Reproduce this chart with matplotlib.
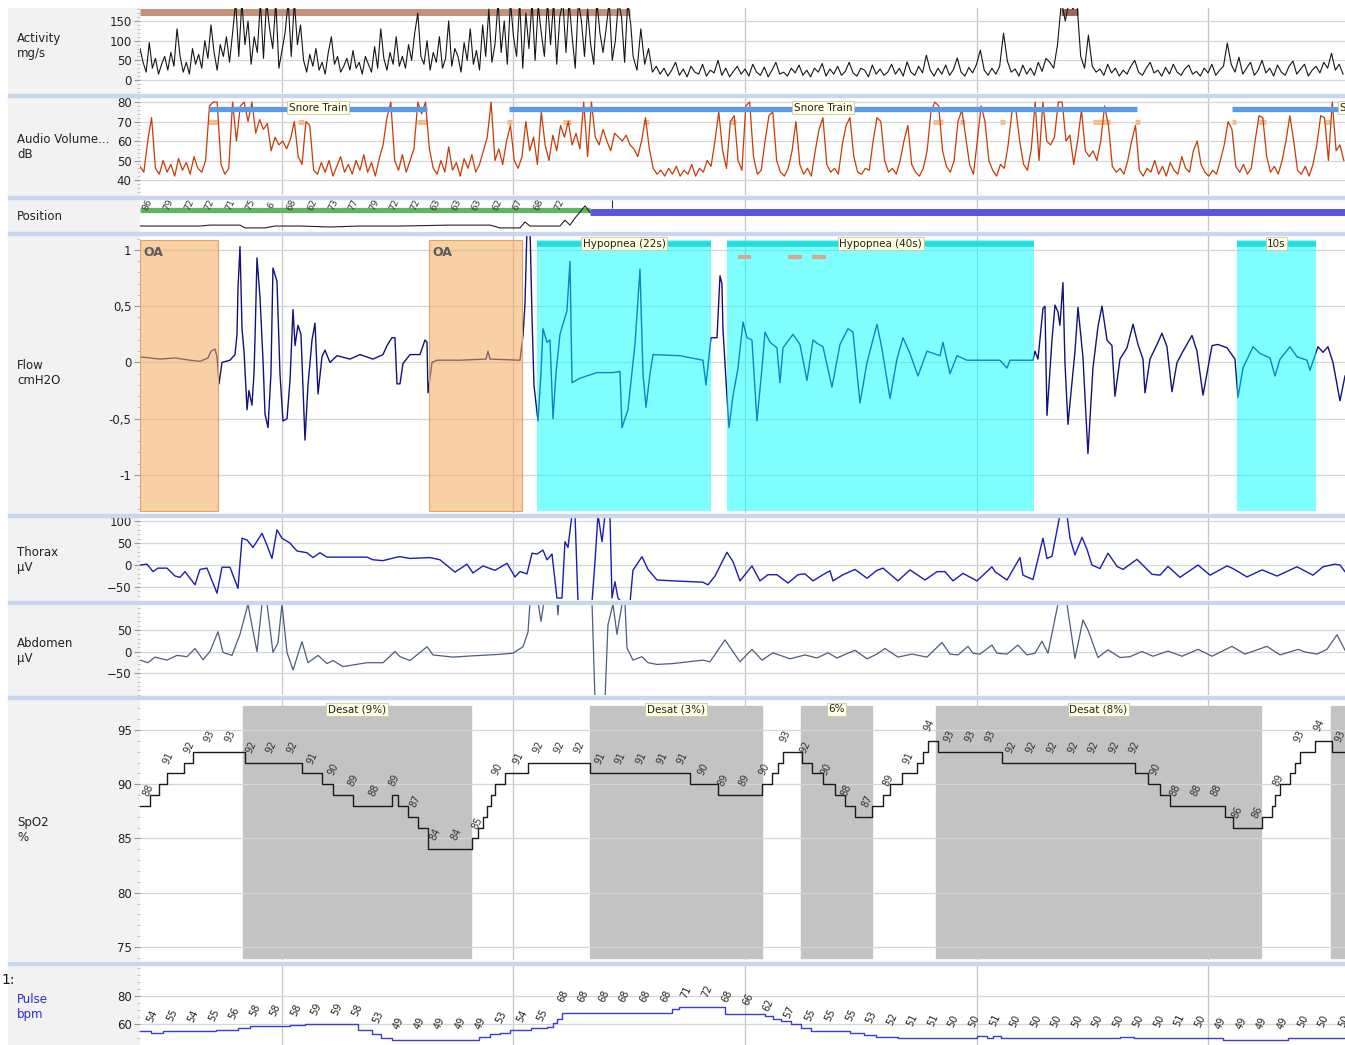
import numpy as np
import matplotlib
matplotlib.use("Agg")
import matplotlib.pyplot as plt
from matplotlib.patches import Rectangle
from matplotlib.ticker import AutoMinorLocator

plt.rcParams['font.family'] = ['DejaVu Sans']

# time axis in seconds, vertical grid every 30 s
t_start, t_end = 11.6, 167.75
grid_t = [30, 60, 90, 120, 150]

# ---------------- data ----------------
# activity (mg/s): busy part sampled every 0.4 s, calm part every 0.5 s
act_busy_t0, act_busy_dt = 11.6, 0.4
act_busy = [80, 45, 20, 95, 30, 55, 15, 40, 60, 25, 70, 35, 130, 60, 20, 45, 15, 80, 40, 65,
            30, 100, 55, 140, 70, 25, 90, 60, 110, 45,
            120, 200, 60, 200, 90, 150, 40, 110, 70, 200, 55, 200, 130, 80, 200, 30, 75, 120, 200, 60, 200, 90, 140,
            50, 20, 65, 35, 80, 25, 45, 15, 70, 110, 40, 60, 20, 35, 55, 25, 75, 30, 45, 15, 60, 40, 20, 85, 30, 130,
            55, 25, 70, 40, 110, 35, 60,
            30, 90, 50, 120, 170, 60, 40, 100, 25, 70, 45, 110, 30, 55, 150, 35, 80, 60, 20, 95, 50, 130, 40, 75,
            25, 140, 60, 180, 45, 90,
            200, 70, 150, 40, 200, 110, 60, 200, 30, 170, 80, 200, 50, 190, 120, 60, 200, 90, 200, 40, 160, 200, 70,
            200, 110, 30, 200, 150, 60, 180, 90, 40, 200, 120, 70, 130, 200, 50, 100, 200, 160, 45, 200, 140]
act_calm_t0, act_calm_dt = 75.5, 0.5
act_calm = [60, 25, 130, 40, 80, 20, 35, 15,
            30, 10, 25, 45, 12, 28, 8, 35, 20, 15, 40, 10, 25, 18, 50, 12, 30, 8, 22, 35,
            15, 28, 10, 40, 20, 12, 33, 8, 25, 45, 15, 20, 10, 30, 18, 38, 12, 25, 8, 30,
            20, 42, 10, 28, 15, 35, 12, 22, 45, 18, 10, 30, 25, 8, 38, 15, 28, 12, 20, 40,
            15, 30, 10, 46, 20, 12, 35, 18, 63, 25, 10, 30, 15, 38, 12, 26, 56, 20, 10, 32,
            18, 40, 76, 25, 12, 30, 15, 35, 119, 48, 20, 28, 10, 38, 15, 30, 12, 45, 22, 55,
            45, 30, 90, 200, 150, 200, 180, 200, 60, 30, 114, 35, 20, 28, 12, 40, 18, 30, 10, 25,
            15, 35, 50, 20, 12, 30, 45, 18, 25, 10, 32, 15, 40, 20, 12, 28, 38, 15, 22, 10,
            30, 18, 40, 12, 25, 35, 94, 40, 20, 58, 15, 30, 45, 12, 25, 50, 18, 30, 10, 38,
            20, 12, 35, 48, 15, 28, 40, 10, 25, 35, 18, 45, 30, 68, 25, 40, 15]
act_bars = [(11.6, 75.1, '#c4917a'), (131.0, 133.1, '#9a6a58')]

# audio volume (dB), every 0.5 s
aud_t0, aud_dt = 11.6, 0.5
audio = [47, 44, 60, 72, 46, 43, 50, 44, 48, 42, 51, 45, 49, 43, 52, 46, 44, 50, 78, 80,
         80, 48, 43, 46, 80, 60, 78, 80, 70, 80, 64, 71, 66, 69, 55, 62, 58, 60, 56, 61,
         70, 52, 48, 70, 68, 45, 43, 49, 44, 50, 42, 47, 52, 44, 48, 43, 50, 45, 53, 44,
         49, 42, 51, 58, 72, 80, 50, 45, 53, 44, 50, 56, 80, 74, 80, 56, 46, 43, 50, 44,
         57, 45, 49, 42, 51, 46, 53, 44, 48, 55, 62, 80, 50, 56, 48, 60, 68, 50, 46, 52,
         70, 55, 62, 48, 75, 58, 50, 63, 55, 68, 62, 70, 58, 64, 56, 80, 52, 80, 62, 58,
         66, 60, 55, 64, 62, 60, 63, 58, 56, 52, 60, 72, 56, 46, 43, 45, 42, 46, 43, 47,
         42, 45, 43, 48, 42, 46, 44, 50, 47, 60, 75, 55, 46, 70, 73, 50, 45, 78, 80, 52,
         43, 45, 60, 73, 75, 50, 44, 42, 46, 55, 70, 48, 43, 46, 42, 55, 66, 72, 48, 44,
         46, 43, 58, 68, 72, 52, 44, 43, 46, 45, 60, 72, 70, 50, 44, 46, 43, 50, 60, 68,
         48, 44, 42, 46, 55, 75, 80, 78, 55, 47, 44, 50, 70, 76, 62, 48, 43, 60, 78, 70,
         50, 45, 42, 48, 46, 58, 75, 76, 60, 48, 45, 56, 80, 50, 80, 60, 58, 62, 80, 80,
         60, 63, 48, 60, 76, 55, 52, 55, 50, 60, 78, 68, 47, 44, 46, 43, 50, 60, 68, 45,
         42, 46, 44, 50, 43, 47, 42, 49, 45, 43, 52, 46, 44, 55, 60, 48, 44, 42, 45, 43,
         50, 58, 70, 66, 47, 44, 48, 43, 46, 60, 73, 72, 52, 44, 47, 43, 50, 60, 73, 60,
         45, 43, 47, 42, 48, 58, 73, 72, 50, 80, 55, 58, 50]
snore_trains = [(20.54, 48.79), (59.36, 140.86), (153.1, 188.7)]
snore_marks = [(20.4, 21.7), (32.1, 32.9), (47.5, 48.8), (59.2, 59.8), (66.4, 67.5), (76.8, 77.6),
               (88.1, 88.8), (114.4, 115.7), (117.9, 118.5), (123.0, 123.7), (135.1, 137.3),
               (140.5, 141.2), (153.1, 153.6), (156.5, 157.5), (165.2, 165.8)]

# body position
pos_green = (11.6, 69.9)
pos_blue = (69.9, 167.75)
pos_pts = [(11.6, 0.16), (19.37, 0.16), (20.67, 0.19), (24.56, 0.19), (25.21, 0.1), (27.8, 0.1),
           (29.09, 0.16), (32.33, 0.16), (36.22, 0.13), (40.11, 0.16), (45.29, 0.16), (51.77, 0.19),
           (56.95, 0.19), (58.25, 0.1), (60.84, 0.1), (61.49, 0.29), (62.14, 0.16), (66.02, 0.16),
           (66.67, 0.35), (67.32, 0.19), (67.97, 0.42), (68.62, 0.61), (69.27, 0.81), (69.91, 0.61)]
pos_labels = [86, 79, 72, 72, 71, 75, 6, 68, 62, 73, 77, 79, 72, 72, 63, 63, 63, 62, 67, 68, 72]
pos_ticks = [72.76]

# flow (cmH2O)
flow_pts = [(11.6, 0.05), (14.19, 0.03), (16.14, 0.04), (18.08, 0.02), (19.37, 0.01), (20.41, 0.04),
            (20.8, 0.10), (21.32, 0.12), (21.58, 0.05), (21.84, -0.19), (22.22, 0.0), (23.26, 0.02),
            (23.91, 0.07), (24.17, 0.25), (24.3, 0.66), (24.56, 1.03), (24.82, 0.3), (25.08, 0.1),
            (25.47, -0.42), (25.72, -0.25), (26.11, -0.38), (26.37, -0.1), (26.5, 0.2), (26.76, 0.93),
            (27.15, 0.58), (27.54, 0.02), (27.8, -0.46), (28.19, -0.58), (28.57, -0.1), (28.83, 0.84),
            (29.35, 0.72), (29.74, -0.1), (30.13, -0.52), (30.65, -0.5), (31.04, -0.16), (31.43, 0.47),
            (31.69, 0.15), (32.07, 0.33), (32.46, 0.25), (32.98, -0.69), (33.37, -0.2), (33.89, 0.2),
            (34.28, 0.35), (34.67, -0.28), (35.18, 0.05), (35.57, 0.11), (36.22, 0.0), (37.13, 0.06),
            (38.81, 0.03), (40.11, 0.07), (41.79, 0.03), (43.09, 0.07), (43.61, 0.15), (44.25, 0.22),
            (44.64, 0.22), (44.9, -0.19), (45.29, -0.19), (45.68, -0.01), (46.59, 0.07), (47.88, 0.07),
            (48.53, 0.2), (48.79, 0.18), (48.92, -0.27), (49.44, 0.0), (50.09, 0.02), (53.07, 0.02),
            (56.44, 0.03), (56.69, 0.1), (56.95, 0.03), (60.84, 0.02), (61.23, 0.24), (61.49, 0.52),
            (61.75, 1.2), (62.14, 1.2), (62.4, 0.4), (62.65, -0.2), (63.17, -0.52), (63.56, -0.1),
            (63.82, 0.3), (64.34, 0.18), (64.73, 0.2), (65.12, -0.5), (65.5, -0.1), (66.02, 0.25),
            (66.93, 0.46), (67.32, 0.9), (67.58, -0.18), (68.62, -0.14), (70.82, -0.09), (72.89, -0.09),
            (73.8, -0.08), (74.06, -0.58), (74.83, -0.42), (75.74, 0.16), (76.39, 0.83), (76.78, -0.1),
            (77.17, -0.4), (77.69, -0.1), (78.08, 0.07), (81.57, 0.06), (84.55, 0.02), (84.94, -0.2),
            (85.59, 0.22), (86.37, 0.22), (86.76, 0.77), (87.01, 0.7), (87.14, 0.3), (87.66, -0.3),
            (87.92, -0.58), (88.44, -0.3), (89.09, -0.05), (89.74, 0.36), (90.25, 0.22), (90.9, 0.2),
            (91.55, -0.52), (92.2, -0.05), (92.59, 0.27), (93.24, 0.18), (94.14, 0.13), (94.53, -0.18),
            (94.92, 0.13), (96.22, 0.25), (97.12, 0.16), (98.03, -0.16), (98.81, 0.2), (99.33, 0.17),
            (100.1, 0.14), (101.27, -0.22), (102.31, 0.16), (103.34, 0.3), (103.99, 0.27), (104.9, -0.36),
            (105.81, 0.0), (107.1, 0.34), (107.75, 0.12), (108.79, -0.32), (109.69, 0.03), (110.47, 0.22),
            (111.38, 0.08), (112.41, -0.12), (113.58, 0.1), (115.27, 0.06), (115.65, 0.18), (116.56, -0.1),
            (117.47, 0.06), (118.77, 0.02), (123.04, 0.02), (123.95, -0.05), (124.34, 0.02), (127.32, 0.02),
            (127.58, 0.1), (127.97, 0.03), (128.61, 0.48), (128.87, 0.5), (129.13, -0.47), (129.78, 0.2),
            (130.17, 0.51), (130.55, 0.45), (130.81, 0.33), (131.2, 0.71), (131.46, 0.0), (131.85, -0.55),
            (132.76, 0.1), (133.15, 0.49), (133.79, 0.05), (134.44, -0.81), (135.09, -0.05), (135.74, 0.32),
            (136.26, 0.5), (136.91, 0.2), (137.55, 0.15), (137.94, -0.3), (138.59, 0.03), (139.5, 0.13),
            (140.28, 0.34), (140.92, 0.16), (141.57, 0.03), (141.83, -0.27), (142.48, 0.03), (143.39, 0.16),
            (144.03, 0.26), (144.68, 0.14), (145.33, -0.26), (145.98, 0.0), (146.76, 0.1), (147.92, 0.24),
            (148.57, 0.1), (149.35, -0.29), (150.52, 0.15), (151.29, 0.16), (152.46, 0.13), (153.49, 0.03),
            (153.88, -0.31), (154.53, -0.05), (155.83, 0.14), (156.74, 0.08), (158.03, 0.04), (158.68, -0.12),
            (159.33, 0.03), (160.62, 0.14), (161.53, 0.05), (162.83, 0.02), (163.21, -0.07), (164.25, 0.14),
            (164.9, 0.09), (165.54, 0.14), (166.19, 0.0), (167.1, -0.34), (167.75, -0.12)]
oa_events = [(11.6, 21.7), (49.05, 61.1)]
hyp_events = [(63.05, 85.6, 'Hypopnea (22s)'), (87.7, 127.45, 'Hypopnea (40s)'), (153.75, 164.0, '10s')]
flow_marks = [(89.07, 90.75), (95.57, 97.38), (98.68, 100.5)]

# thorax (uV)
thx_pts = [(11.6, 0), (12.51, 2), (13.28, -15), (13.93, -7), (15.1, -7), (16.14, -25), (16.78, -28),
           (17.43, -15), (18.73, -45), (19.37, -10), (20.28, -7), (21.58, -64), (22.22, -5), (23.26, -5),
           (24.3, -53), (24.82, 61), (25.47, 57), (26.24, 40), (27.41, 72), (28.06, 45), (28.7, 15),
           (29.35, 80), (30.0, 61), (31.04, 50), (31.94, 32), (33.24, 28), (34.02, 17), (34.92, 28),
           (35.83, 18), (41.01, 18), (41.79, 12), (43.09, 10), (44.9, 18), (45.29, 19), (46.59, 15),
           (49.18, 17), (50.47, 12), (52.42, -16), (53.97, 2), (54.75, -18), (56.05, -2), (57.6, -12),
           (59.16, 4), (60.19, -27), (60.84, -15), (61.75, -20), (62.4, 27), (63.04, 25), (63.82, 34),
           (64.34, 12), (64.99, 25), (65.63, -75), (66.28, -75), (66.67, 53), (67.06, 40), (67.58, 115),
           (67.97, 115), (68.36, -85), (70.17, -85), (70.56, 8), (70.95, 115), (71.47, 53), (71.86, 115),
           (72.5, 115), (72.76, -75), (73.15, -38), (73.54, -75), (74.06, -85), (75.1, -85), (75.48, -12),
           (76.65, 19), (77.43, -10), (78.59, -34), (80.67, -36), (84.55, -39), (85.2, -45), (86.11, -25),
           (87.66, 29), (88.44, 8), (89.35, -36), (90.9, -2), (91.94, -36), (92.97, -22), (94.14, -22),
           (95.57, -41), (96.86, -22), (97.77, -20), (98.81, -36), (100.1, -22), (101.01, -13), (101.4, -36),
           (102.7, -22), (104.25, -10), (105.81, -30), (107.1, -12), (107.88, -7), (109.82, -36),
           (111.38, -11), (113.32, -34), (114.88, -15), (115.91, -15), (116.95, -36), (118.25, -19),
           (120.06, -36), (122.0, -4), (122.39, -15), (123.95, -34), (125.63, 17), (126.02, -23),
           (127.32, -33), (128.61, 61), (129.13, 15), (129.78, 20), (130.82, 115), (131.72, 115),
           (132.11, 61), (132.76, 23), (133.67, 63), (134.31, 36), (134.96, 0), (136.0, -8), (137.04, 27),
           (138.21, -3), (138.98, -10), (140.79, 13), (142.74, -21), (143.78, -23), (144.81, -3),
           (146.37, -28), (148.7, 0), (150.26, -23), (152.46, -2), (153.23, -8), (155.05, -27), (157.0, -11),
           (158.94, -25), (161.53, -4), (163.6, -23), (164.9, -4), (166.45, 2), (167.1, 0), (167.75, -15)]

# abdomen (uV)
abd_pts = [(11.6, -20), (12.64, -26), (13.54, -13), (15.1, -20), (16.39, -9), (17.69, -12), (18.73, 7),
           (19.76, -19), (20.67, 0), (21.71, 46), (22.35, -2), (23.52, -9), (24.56, 40), (25.59, 110),
           (26.11, 60), (26.76, 0), (27.41, 110), (28.06, 110), (28.83, -2), (29.48, 20), (30.0, 110),
           (30.65, -2), (31.43, -43), (32.59, 23), (33.37, -26), (34.67, -9), (35.83, -28), (36.61, -21),
           (37.91, -35), (41.01, -26), (43.09, -26), (44.64, 0), (45.29, -12), (46.59, -21), (48.79, 11),
           (49.57, -8), (52.16, -13), (54.75, -10), (57.86, -7), (59.93, -4), (61.23, 11), (61.88, 45),
           (62.14, 115), (63.17, 115), (63.56, 70), (63.95, 115), (65.63, 115), (65.76, 85), (65.89, 115),
           (70.17, 115), (70.56, -110), (71.86, -110), (72.24, 62), (72.89, 110), (73.41, 40), (74.06, 110),
           (74.45, 110), (74.71, 8), (75.48, -20), (76.65, -12), (77.43, -26), (78.59, -30), (80.67, -28),
           (84.55, -20), (85.46, -24), (87.4, 27), (89.35, -24), (90.9, 5), (92.2, -20), (93.63, -3),
           (95.83, -17), (97.77, -8), (99.33, -15), (100.75, -3), (101.92, -15), (104.25, 3), (105.81, -17),
           (107.1, -6), (108.14, 7), (109.82, -13), (111.64, -6), (113.58, -13), (115.53, 21), (116.56, -6),
           (117.6, -8), (118.89, 12), (119.54, -4), (120.45, -6), (122.0, 15), (122.65, -4), (123.95, -6),
           (125.37, 15), (126.53, -8), (127.58, -4), (128.48, 24), (129.26, -4), (130.55, 110), (131.72, 110),
           (132.76, -16), (133.79, 73), (134.44, 50), (135.74, -14), (137.04, 4), (138.59, -14), (139.89, -12),
           (141.44, 0), (142.87, -11), (144.81, 1), (146.63, -11), (148.7, 5), (150.52, -11), (153.1, 12),
           (154.79, -6), (157.64, 12), (159.33, -8), (161.66, 5), (162.57, -1), (164.12, -6), (165.41, 5),
           (166.71, 39), (167.75, 3)]

# SpO2 (%) step values
spo2_t = [11.6, 12.9, 14.06, 15.1, 17.3, 18.47, 25.21, 32.59, 35.18, 36.61, 39.2, 44.25, 45.03, 46.33,
          47.62, 48.92, 54.62, 55.4, 56.05, 56.56, 57.08, 57.6, 58.9, 61.88, 69.91, 82.87, 86.5, 92.2,
          93.5, 94.27, 94.92, 97.38, 98.68, 100.1, 101.66, 102.96, 104.25, 106.46, 107.88, 108.79, 110.34,
          112.29, 113.06, 113.71, 115.01, 123.3, 140.53, 142.22, 143.77, 145.07, 152.2, 153.23, 156.99,
          158.28, 158.67, 159.32, 160.62, 161.27, 161.92, 163.86, 166.07, 167.75]
spo2_v = [88, 89, 90, 91, 92, 93, 92, 91, 90, 89, 88, 89, 88, 87, 86, 84, 85, 86, 87, 88, 89, 90, 91, 92,
          91, 90, 89, 90, 91, 92, 93, 92, 91, 90, 89, 88, 87, 88, 89, 90, 91, 92, 93, 94, 93, 92, 91, 90,
          89, 88, 87, 86, 87, 88, 89, 90, 91, 92, 93, 94, 93, 93]
spo2_labels = [88, 91, 92, 93, 93, 92, 92, 92, 91, 90, 89, 88, 89, 87, 84, 84, 85, 90, 91, 92,
               92, 92, 91, 91, 91, 91, 91, 90, 89, 89, 90, 93, 92, 90, 88, 87, 89, 91, 94, 93,
               93, 93, 92, 92, 92, 92, 92, 92, 92, 90, 88, 88, 88, 86, 86, 89, 93, 94, 93]
desat_events = [(24.95, 54.5, 'Desat (9%)'), (69.9, 92.2, 'Desat (3%)'), (97.25, 106.45, '6%'),
                (114.75, 156.85, 'Desat (8%)'), (165.9, 180.0, '')]

# pulse (bpm) step values
pulse_t = [11.6, 13.0, 14.6, 16.5, 19.0, 21.5, 24.3, 25.8, 31.0, 33.0, 39.9, 41.6, 42.8, 44.3, 55.5,
           56.9, 58.3, 59.5, 62.3, 64.4, 65.1, 65.7, 66.3, 80.5, 81.4, 87.4, 92.6, 93.6, 94.7, 95.9,
           97.2, 98.5, 103.6, 105.4, 107.0, 109.8, 112.0, 120.1, 121.3, 122.2, 123.2, 124.2, 138.6,
           140.4, 152.0, 160.4, 167.75]
pulse_v = [55, 53.5, 55, 55.5, 55, 56, 57, 59, 59.5, 60, 56, 53, 50, 49, 51, 53, 54, 56, 57, 58, 61, 64,
           68, 70.5, 72.5, 67, 66, 64, 62, 60, 57, 55.5, 54, 52, 51, 50.5, 50, 51.5, 50, 51.5, 50, 50,
           51, 50, 49, 50, 50]
pulse_labels = [54, 55, 54, 55, 56, 58, 58, 58, 59, 59, 58, 53, 49, 49, 49, 49, 49, 53, 54, 55,
                68, 68, 68, 68, 68, 68, 71, 72, 68, 66, 62, 57, 55, 55, 55, 53, 52, 51, 51, 50,
                50, 51, 50, 50, 50, 50, 50, 50, 50, 50, 51, 50, 49, 49, 49, 49, 50, 50, 50]
label_dt = 2.663
spo2_lab_t0, pulse_lab_t0 = 12.64, 13.16

# ---------------- layout ----------------
W, H = 1345, 1045
fig = plt.figure(figsize=(W / 100, H / 100), dpi=100)
fig.patch.set_facecolor('white')

panels = {
    'act': (8, 93), 'aud': (97, 195), 'pos': (200, 231), 'flow': (236, 513),
    'thx': (518, 600), 'abd': (605, 695), 'spo2': (700, 960), 'pulse': (966, 1045),
}
names = {
    'act': ('Activity\nmg/s', '#222222'), 'aud': ('Audio Volume...\ndB', '#222222'),
    'pos': ('Position', '#222222'), 'flow': ('Flow\ncmH2O', '#222222'),
    'thx': ('Thorax\nµV', '#222222'), 'abd': ('Abdomen\nµV', '#222222'),
    'spo2': ('SpO2\n%', '#222222'), 'pulse': ('Pulse\nbpm', '#2a2ad0'),
}
name_y = {'act': 46, 'aud': 147, 'pos': 216, 'flow': 373, 'thx': 560, 'abd': 651, 'spo2': 830, 'pulse': 1007}

axes = {}
for key, (top, bot) in panels.items():
    fig.add_artist(Rectangle((8 / W, 1 - bot / H), 132 / W, (bot - top) / H,
                             transform=fig.transFigure, color='#f2f2f2', zorder=-2))
    ax = fig.add_axes([140 / W, 1 - bot / H, (W - 140) / W, (bot - top) / H])
    ax.set_xlim(t_start, t_end)
    ax.set_xticks(grid_t)
    ax.tick_params(axis='x', length=0, labelbottom=False)
    ax.tick_params(axis='y', which='major', length=4, color='#999999', labelsize=8.5,
                   labelcolor='#222222', pad=2)
    ax.tick_params(axis='y', which='minor', length=2, color='#bbbbbb')
    for s in ax.spines.values():
        s.set_visible(False)
    ax.grid(True, axis='y', color='#d6d6d6', lw=0.9)
    ax.grid(True, axis='x', color='#c6c6c6', lw=0.9)
    axes[key] = ax
    label, col = names[key]
    fig.text(17 / W, 1 - name_y[key] / H, label, fontsize=8.5, color=col, va='center',
             ha='left', linespacing=1.25)

for y in [95, 197.5, 233.5, 515.5, 602.5, 697.5, 963]:
    fig.add_artist(Rectangle((8 / W, 1 - (y + 1.5) / H), (W - 8) / W, 3 / H,
                             transform=fig.transFigure, color='#c9d7ec', zorder=5))
fig.text(0.001, 1 - 980 / H, '1:', fontsize=10, color='#111111', va='center', ha='left')

box = dict(boxstyle='square,pad=0.15', fc='#ffffe1', ec='#c8c8a8', lw=0.6)


def set_y(ax, lim, ticks, labels=None):
    ax.set_ylim(*lim)
    ax.set_yticks(ticks)
    if labels is not None:
        ax.set_yticklabels(labels)
    ax.yaxis.set_minor_locator(AutoMinorLocator(5))


# activity
ax = axes['act']
set_y(ax, (-33, 183), [0, 50, 100, 150])
for a, b, c in act_bars:
    ax.hlines(172, a, b, color=c, lw=5, zorder=2)
t_busy = act_busy_t0 + act_busy_dt * np.arange(len(act_busy))
t_calm = act_calm_t0 + act_calm_dt * np.arange(len(act_calm))
ax.plot(np.concatenate([t_busy, t_calm]), np.concatenate([act_busy, act_calm]),
        color='#151515', lw=0.8, zorder=3)

# audio
ax = axes['aud']
set_y(ax, (32.3, 82.6), [40, 50, 60, 70, 80])
t_aud = aud_t0 + aud_dt * np.arange(len(audio))
ax.plot(t_aud, audio, color='#c83a08', lw=0.9, zorder=3)
for a, b in snore_trains:
    ax.hlines(76.2, a, b, color='#5a9ae8', lw=3.8, zorder=4)
    ax.text((a + b) / 2, 77.0, 'Snore Train', fontsize=7.5, ha='center', va='center',
            color='#222222', bbox=box, zorder=6, clip_on=True)
for a, b in snore_marks:
    ax.hlines(70.0, a, b, color='#f6b98a', lw=3.5, zorder=2)

# position
ax = axes['pos']
ax.set_ylim(0, 1)
ax.set_yticks([])
ax.grid(False, axis='y')
ax.hlines(0.68, *pos_green, color='#5cb85c', lw=3.8, zorder=3)
ax.hlines(0.61, *pos_blue, color='#5656de', lw=5, zorder=3)
pt, pv = np.array(pos_pts).T
ax.plot(pt, pv, color='#222222', lw=0.8, zorder=4)
ax.vlines(pos_ticks, 0.74, 1.0, color='#333333', lw=0.8)
for i, v in enumerate(pos_labels):
    ax.text(spo2_lab_t0 + label_dt * i, 0.84, str(v), fontsize=6.5, rotation=65,
            ha='center', va='center', color='#333333', zorder=5)

# flow
ax = axes['flow']
set_y(ax, (-1.338, 1.124), [-1, -0.5, 0, 0.5, 1], ['-1', '-0,5', '0', '0,5', '1'])
ft, fv = np.array(flow_pts).T
ax.plot(ft, fv, color='#12127a', lw=1.0, zorder=2)
for a, b in oa_events:
    ax.axvspan(a, b, ymin=0.007, ymax=0.986, fc=(0.957, 0.667, 0.357, 0.55),
               ec='#e8a060', lw=0.8, zorder=3)
    ax.text(a + 0.4, 0.98, 'OA', fontsize=9, fontweight='bold', color='#5a5a5a',
            ha='left', va='center', zorder=6)
for a, b, lab in hyp_events:
    ax.axvspan(a, b, ymin=0.007, ymax=0.986, fc=(0.0, 1.0, 1.0, 0.5), ec='none', zorder=3)
    ax.hlines(1.055, a, b, color='#24dcdc', lw=4, zorder=4)
    ax.text((a + b) / 2, 1.055, lab, fontsize=7.5, ha='center', va='center',
            color='#222222', bbox=box, zorder=6)
for a, b in flow_marks:
    ax.hlines(0.94, a, b, color='#d8a88c', lw=3, zorder=4)

# thorax
ax = axes['thx']
set_y(ax, (-79.5, 107), [-50, 0, 50, 100])
tt, tv = np.array(thx_pts).T
ax.plot(tt, tv, color='#1c1cb4', lw=1.0, zorder=3)

# abdomen
ax = axes['abd']
set_y(ax, (-101, 108), [-50, 0, 50])
at, av = np.array(abd_pts).T
ax.plot(at, av, color='#4d5d7c', lw=0.9, zorder=3)

# SpO2
ax = axes['spo2']
set_y(ax, (73.8, 97.76), [75, 80, 85, 90, 95])
for a, b, lab in desat_events:
    ax.axvspan(a, b, ymin=0.008, ymax=0.977, color='#c3c3c3', zorder=1)
    if lab:
        ax.text((a + b) / 2, 96.9, lab, fontsize=7.5, ha='center', va='center',
                color='#222222', bbox=box, zorder=6)
ax.plot(spo2_t, spo2_v, drawstyle='steps-post', color='#1a1a1a', lw=1.0, zorder=3)
for i, v in enumerate(spo2_labels):
    ax.annotate(str(v), (spo2_lab_t0 + label_dt * i, v), xytext=(0, 11),
                textcoords='offset points', fontsize=7, rotation=65,
                ha='center', va='center', color='#333333', zorder=5)

# pulse
ax = axes['pulse']
set_y(ax, (45.2, 101.5), [60, 80])
ax.yaxis.set_minor_locator(AutoMinorLocator(4))
ax.plot(pulse_t, pulse_v, drawstyle='steps-post', color='#3c3cd2', lw=1.0, zorder=3)
for i, v in enumerate(pulse_labels):
    ax.annotate(str(v), (pulse_lab_t0 + label_dt * i, v), xytext=(0, 12),
                textcoords='offset points', fontsize=7, rotation=65,
                ha='center', va='center', color='#222222', zorder=5)

fig.savefig('out.png', dpi=100)
